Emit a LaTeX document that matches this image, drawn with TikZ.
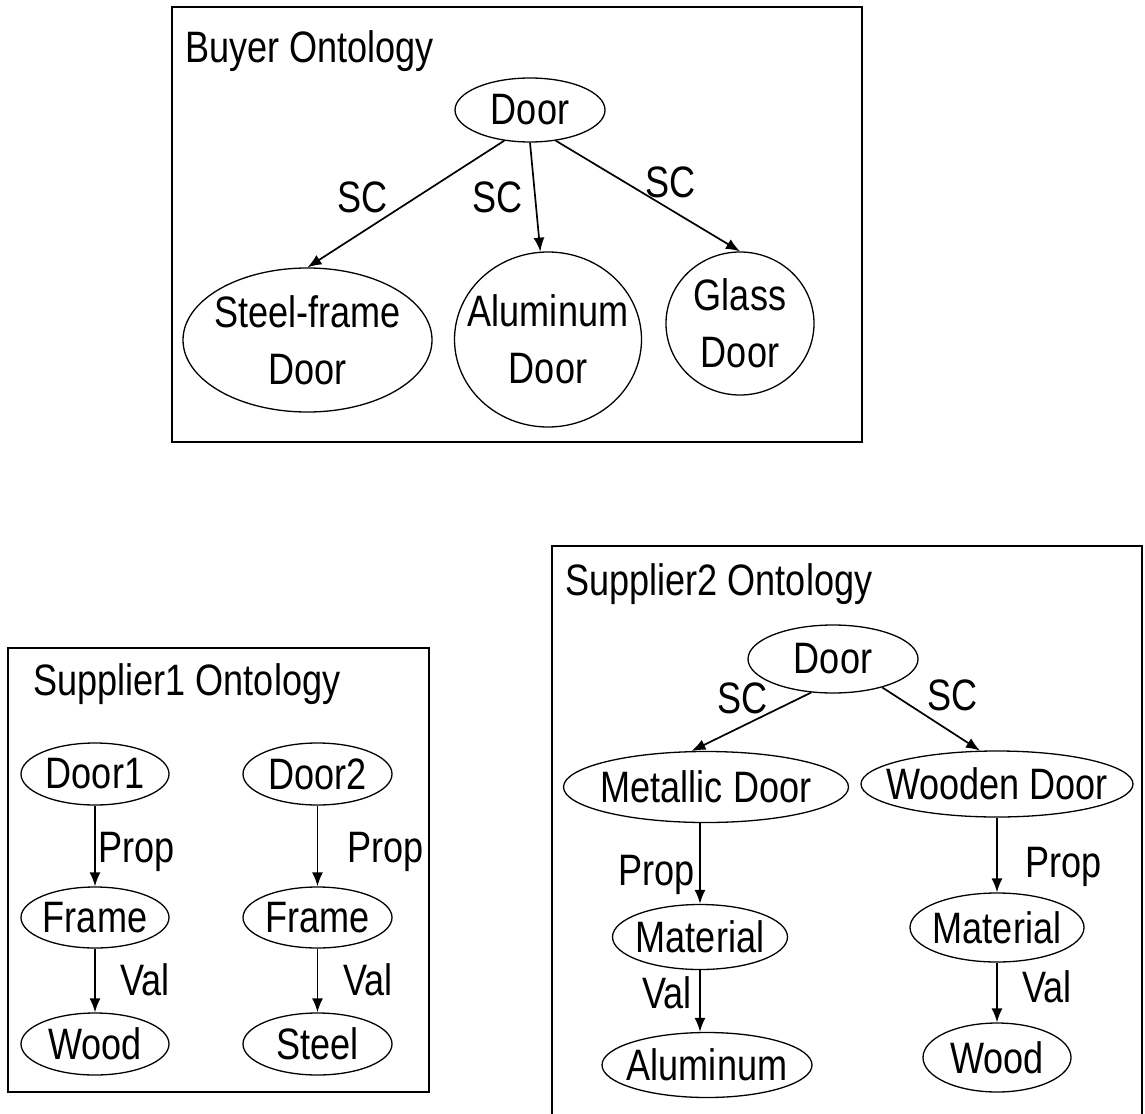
\documentclass[tikz,border=0pt]{standalone}
\usepackage{fontspec}
\setmainfont{Liberation Sans}[FakeStretch=0.82]
\usetikzlibrary{shapes.geometric,arrows.meta}
\begin{document}
\begin{tikzpicture}[x=0.5pt,y=-0.5pt,
  ov/.style 2 args={draw, ellipse, inner sep=0pt, minimum width=#1pt, minimum height=#2pt, line width=0.65pt},
  txt/.style={inner sep=0pt, font=\fontsize{22}{28.5}\selectfont, align=center},
  arr/.style={-{Latex[length=7pt,width=5.5pt]}, line width=0.85pt},
  box/.style={draw, line width=0.75pt}]
\useasboundingbox (0,0) rectangle (1145,1113);

% ---------------- Buyer ontology ----------------
\draw[box] (172,7) rectangle (862,442);
\node[txt, anchor=base west] (btitle) at (185,63) {Buyer Ontology};
\node[ov={75}{32}] (bdoor) at (530,110) {};
\node[txt] (bdoort) at (bdoor) {Door};
\node[ov={124.5}{72}] (bsteel) at (307.5,340) {};
\node[txt] (bsteelt) at (bsteel) {Steel-frame\\Door};
\node[ov={93.5}{87.5}] (balu) at (548,339.5) {};
\node[txt] (balut) at (balu) {Aluminum\\Door};
\node[ov={74}{71.5}] (bglass) at (740,323.5) {};
\node[txt] (bglasst) at (bglass) {Glass\\Door};
\draw[arr] (bdoor.230) -- (bsteel.north);
\draw[arr] (bdoor.south) -- (balu.95);
\draw[arr] (bdoor.310) -- (bglass.north);
\node[txt, anchor=base west] (bsc1) at (337,212) {SC};
\node[txt, anchor=base west] (bsc2) at (472,212) {SC};
\node[txt, anchor=base west] (bsc3) at (645,197) {SC};

% ---------------- Supplier1 ontology ----------------
\draw[box] (8,648) rectangle (429,1092);
\node[txt, anchor=base west] (s1title) at (33,695) {Supplier1 Ontology};
\node[ov={74}{31}] (door1) at (95,774) {};
\node[txt] (door1t) at (door1) {Door1};
\node[ov={74.5}{31}] (door2) at (317.5,774) {};
\node[txt] (door2t) at (door2) {Door2};
\node[ov={74}{30.5}] (frame1) at (95,917.5) {};
\node[txt] (frame1t) at (frame1) {Frame};
\node[ov={74.5}{30.5}] (frame2) at (317.5,917.5) {};
\node[txt] (frame2t) at (frame2) {Frame};
\node[ov={74}{31}] (wood1) at (95,1044) {};
\node[txt] (wood1t) at (wood1) {Wood};
\node[ov={74.5}{31}] (steel) at (317.5,1044) {};
\node[txt] (steelt) at (steel) {Steel};
\draw[arr] (door1) -- (frame1);
\draw[arr] (frame1) -- (wood1);
\draw[arr] (door2) -- (frame2);
\draw[arr] (frame2) -- (steel);
\node[txt, anchor=base west] (p1) at (98,862) {Prop};
\node[txt, anchor=base west] (p2) at (347,862) {Prop};
\node[txt, anchor=base west] (v1) at (120,995) {Val};
\node[txt, anchor=base west] (v2) at (343,995) {Val};

% ---------------- Supplier2 ontology ----------------
\draw[box] (552,546) rectangle (1142,1125);
\node[txt, anchor=base west] (s2title) at (565,595) {Supplier2 Ontology};
\node[ov={85}{34}] (s2door) at (833,659) {};
\node[txt] (s2doort) at (s2door) {Door};
\node[ov={142.5}{35.5}] (metal) at (706,787) {};
\node[txt] (metalt) at (metal) {Metallic Door};
\node[ov={136}{33}] (wooden) at (997,784) {};
\node[txt] (woodent) at (wooden) {Wooden Door};
\node[ov={87.5}{32.5}] (mat1) at (700,937) {};
\node[txt] (mat1t) at (mat1) {Material};
\node[ov={87}{34.5}] (mat2) at (997,927.5) {};
\node[txt] (mat2t) at (mat2) {Material};
\node[ov={105}{32.5}] (alu) at (707,1065) {};
\node[txt] (alut) at (alu) {Aluminum};
\node[ov={74}{34.5}] (wood2) at (997,1057.5) {};
\node[txt] (wood2t) at (wood2) {Wood};
\draw[arr] (s2door.237) -- (metal.112);
\draw[arr] (s2door.330) -- (wooden.117);
\draw[arr] (mat1.north |- metal.south) -- (mat1.north);
\draw[arr] (wooden) -- (mat2);
\draw[arr] (mat1.south) -- (mat1.south |- alu.north);
\draw[arr] (mat2) -- (wood2);
\node[txt, anchor=base west] (s2sc1) at (717,713) {SC};
\node[txt, anchor=base west] (s2sc2) at (927,710) {SC};
\node[txt, anchor=base west] (s2p1) at (618,885) {Prop};
\node[txt, anchor=base west] (s2p2) at (1025,877) {Prop};
\node[txt, anchor=base west] (s2v1) at (642,1008) {Val};
\node[txt, anchor=base west] (s2v2) at (1022,1002) {Val};
\end{tikzpicture}
\end{document}
